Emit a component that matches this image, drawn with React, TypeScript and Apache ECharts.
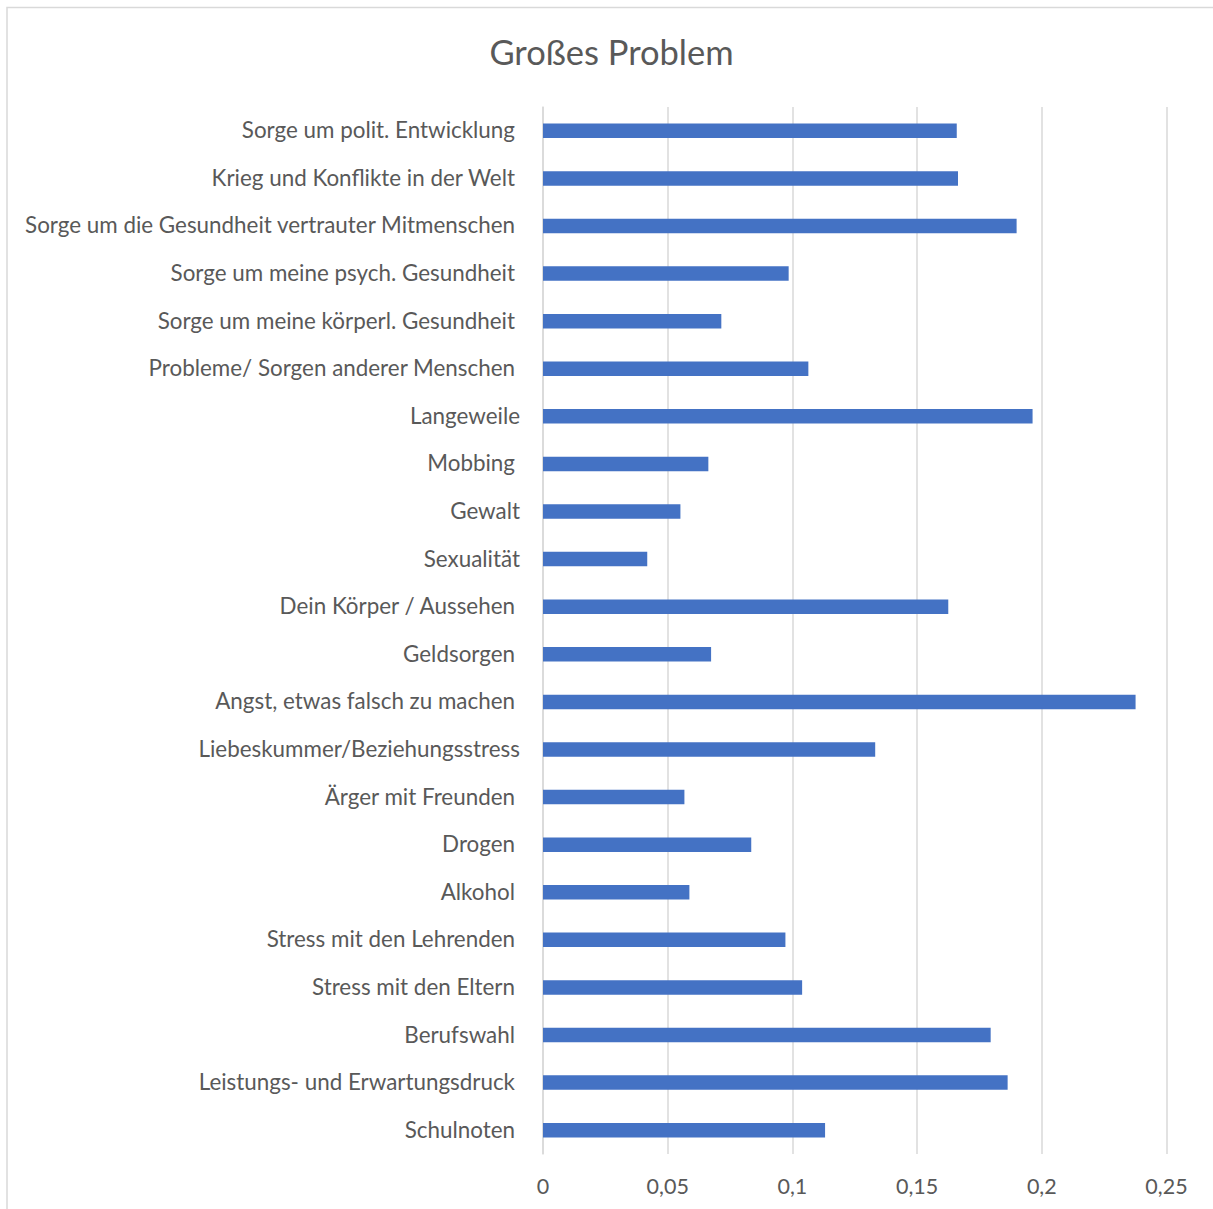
import React, { useEffect, useRef } from "react";
import * as echarts from "echarts";

// Problem areas, top to bottom
const categories: string[] = [
  "Sorge um polit. Entwicklung",
  "Krieg und Konflikte in der Welt",
  "Sorge um die Gesundheit vertrauter Mitmenschen",
  "Sorge um meine psych. Gesundheit",
  "Sorge um meine körperl. Gesundheit",
  "Probleme/ Sorgen anderer Menschen",
  "Langeweile",
  "Mobbing",
  "Gewalt",
  "Sexualität",
  "Dein Körper / Aussehen",
  "Geldsorgen",
  "Angst, etwas falsch zu machen",
  "Liebeskummer/Beziehungsstress",
  "Ärger mit Freunden",
  "Drogen",
  "Alkohol",
  "Stress mit den Lehrenden",
  "Stress mit den Eltern",
  "Berufswahl",
  "Leistungs- und Erwartungsdruck",
  "Schulnoten",
];

// Share answering "großes Problem"
const values: number[] = [
  0.1659, 0.1664, 0.1899, 0.0985, 0.0715, 0.1064, 0.1963, 0.0663, 0.0551,
  0.0418, 0.1625, 0.0674, 0.2376, 0.1332, 0.0567, 0.0835, 0.0587, 0.0972,
  0.1039, 0.1795, 0.1863, 0.1131,
];

// Labels entered without a trailing blank sit slightly closer to the axis
const flushLabels: string[] = [
  "Langeweile",
  "Gewalt",
  "Sexualität",
  "Liebeskummer/Beziehungsstress",
];

const FONT = "Lato";
const TEXT = "#595959";
const GRID = "#d9d9d9";

export default function App() {
  const ref = useRef<HTMLDivElement>(null);

  useEffect(() => {
    if (!ref.current) return;
    const chart = echarts.init(ref.current, undefined, { renderer: "svg" });
    const labelStyle = { fontFamily: FONT, fontSize: 22.4, color: TEXT };
    chart.setOption({
      animation: false,
      backgroundColor: "#ffffff",
      title: {
        text: "Großes Problem",
        left: 606.5,
        top: 29,
        textAlign: "center",
        textStyle: { fontFamily: FONT, fontSize: 34.5, fontWeight: "normal", color: TEXT },
      },
      graphic: [
        {
          type: "rect",
          shape: { x: 7, y: 7.5, width: 1240, height: 1240 },
          style: { fill: "none", stroke: GRID, lineWidth: 1.5 },
          silent: true,
        },
      ],
      grid: { left: 543, right: 46.5, top: 107, bottom: 55 },
      xAxis: {
        type: "value",
        min: 0,
        max: 0.25,
        interval: 0.05,
        axisLine: { show: false },
        axisTick: { show: false },
        splitLine: { lineStyle: { color: GRID, width: 1.5 } },
        axisLabel: {
          margin: 21,
          fontFamily: FONT,
          fontSize: 21.5,
          color: TEXT,
          formatter: (v: number) => String(Number(v.toFixed(2))).replace(".", ","),
        },
      },
      yAxis: {
        type: "category",
        inverse: true,
        data: categories,
        axisLine: { show: true, lineStyle: { color: GRID, width: 1.5 } },
        axisTick: { show: false },
        axisLabel: {
          margin: 23,
          ...labelStyle,
          formatter: (v: string) => (flushLabels.includes(v) ? `{f|${v}}` : `{p|${v}}`),
          rich: {
            f: { ...labelStyle, padding: [0, 0, 2, 0] },
            p: { ...labelStyle, padding: [0, 5, 2, 0] },
          },
        },
      },
      series: [
        {
          type: "bar",
          data: values,
          barWidth: 14.5,
          itemStyle: { color: "#4472c4" },
        },
      ],
    });
    return () => chart.dispose();
  }, []);

  return (
    <div
      ref={ref}
      style={{ position: "fixed", left: 0, top: 0, width: 1213, height: 1209 }}
    />
  );
}
